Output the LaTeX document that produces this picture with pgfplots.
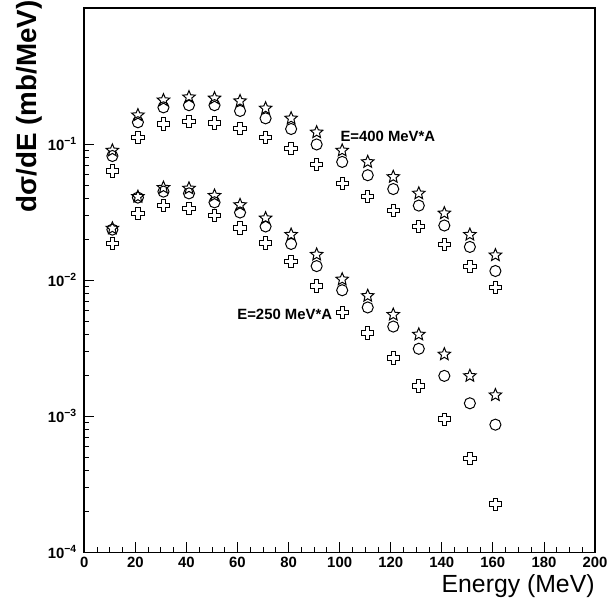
\documentclass[border=0pt]{standalone}
\usepackage{fontspec}
\setmainfont{Liberation Sans}
\usepackage{pgfplots}
\usepackage{pgfplotstable}
\pgfplotsset{compat=1.18}

% open cross and open star marks
\pgfdeclareplotmark{ocross}{%
  \pgfpathmoveto{\pgfqpoint{0.35\pgfplotmarksize}{\pgfplotmarksize}}%
  \pgfpathlineto{\pgfqpoint{-0.35\pgfplotmarksize}{\pgfplotmarksize}}%
  \pgfpathlineto{\pgfqpoint{-0.35\pgfplotmarksize}{0.35\pgfplotmarksize}}%
  \pgfpathlineto{\pgfqpoint{-\pgfplotmarksize}{0.35\pgfplotmarksize}}%
  \pgfpathlineto{\pgfqpoint{-\pgfplotmarksize}{-0.35\pgfplotmarksize}}%
  \pgfpathlineto{\pgfqpoint{-0.35\pgfplotmarksize}{-0.35\pgfplotmarksize}}%
  \pgfpathlineto{\pgfqpoint{-0.35\pgfplotmarksize}{-\pgfplotmarksize}}%
  \pgfpathlineto{\pgfqpoint{0.35\pgfplotmarksize}{-\pgfplotmarksize}}%
  \pgfpathlineto{\pgfqpoint{0.35\pgfplotmarksize}{-0.35\pgfplotmarksize}}%
  \pgfpathlineto{\pgfqpoint{\pgfplotmarksize}{-0.35\pgfplotmarksize}}%
  \pgfpathlineto{\pgfqpoint{\pgfplotmarksize}{0.35\pgfplotmarksize}}%
  \pgfpathlineto{\pgfqpoint{0.35\pgfplotmarksize}{0.35\pgfplotmarksize}}%
  \pgfpathclose\pgfusepathqstroke}
\pgfdeclareplotmark{ostar}{%
  \pgfpathmoveto{\pgfqpoint{0pt}{\pgfplotmarksize}}%
  \pgfpathlineto{\pgfqpoint{-0.2645\pgfplotmarksize}{0.3641\pgfplotmarksize}}%
  \pgfpathlineto{\pgfqpoint{-0.9511\pgfplotmarksize}{0.3090\pgfplotmarksize}}%
  \pgfpathlineto{\pgfqpoint{-0.4280\pgfplotmarksize}{-0.1391\pgfplotmarksize}}%
  \pgfpathlineto{\pgfqpoint{-0.5878\pgfplotmarksize}{-0.8090\pgfplotmarksize}}%
  \pgfpathlineto{\pgfqpoint{0pt}{-0.45\pgfplotmarksize}}%
  \pgfpathlineto{\pgfqpoint{0.5878\pgfplotmarksize}{-0.8090\pgfplotmarksize}}%
  \pgfpathlineto{\pgfqpoint{0.4280\pgfplotmarksize}{-0.1391\pgfplotmarksize}}%
  \pgfpathlineto{\pgfqpoint{0.9511\pgfplotmarksize}{0.3090\pgfplotmarksize}}%
  \pgfpathlineto{\pgfqpoint{0.2645\pgfplotmarksize}{0.3641\pgfplotmarksize}}%
  \pgfpathclose\pgfusepathqstroke}

\pgfplotstableread{
x    star     circ     cross
11   0.0897   0.0817   0.0635
21   0.163    0.1445   0.112
31   0.210    0.186    0.1405
41   0.221    0.193    0.146
51   0.217    0.193    0.143
61   0.207    0.175    0.1306
71   0.183    0.1545   0.112
81   0.1545   0.129    0.0923
91   0.122    0.0993   0.0706
101  0.0897   0.0739   0.0513
111  0.0739   0.059    0.0411
121  0.0574   0.0467   0.0325
131  0.0434   0.0353   0.0248
141  0.031    0.0252   0.0182
151  0.0216   0.01754  0.01254
161  0.01525  0.01167  0.0088
}\eFourH

\pgfplotstableread{
x    star     circ      cross
11   0.0240   0.0235    0.01854
21   0.041    0.0404    0.031
31   0.0478   0.0447    0.0353
41   0.0472   0.0434    0.0337
51   0.0418   0.0373    0.0299
61   0.0357   0.0314    0.0241
71   0.0285   0.0248    0.01876
81   0.0216   0.01845   0.01364
91   0.01542  0.01268   0.00907
101  0.01014  0.00843   0.0058
111  0.00767  0.0063    0.00408
121  0.00558  0.00456   0.00268
131  0.00399  0.00313   0.00167
141  0.00285  0.00198   0.000952
151  0.00198  0.001245  0.00049
161  0.00143  0.000867  0.000226
}\eTwoH

\begin{document}
\begin{tikzpicture}
\begin{axis}[
  name=ax,
  scale only axis,
  width=257.5pt, height=274.5pt,
  ymode=log,
  xmin=0, xmax=200, ymin=1e-4, ymax=1,
  xtick={0,20,...,200},
  minor x tick num=3,
  ytick={1e-4,1e-3,1e-2,1e-1},
  yticklabels={10\textsuperscript{−4},10\textsuperscript{−3},10\textsuperscript{−2},10\textsuperscript{−1}},
  xtick pos=bottom, ytick pos=left,
  tick align=inside,
  major tick length=5pt, minor tick length=2.5pt,
  tick style={black, line width=0.4pt},
  axis line style={line width=0.8pt},
  /pgf/number format/assume math mode=true,
  ticklabel style={font=\bfseries\fontsize{7.5}{9}\selectfont},
  xticklabel style={yshift=1pt},
  xlabel={Energy (MeV)},
  ylabel={\bfseries dσ/dE (mb/MeV)},
  xlabel style={at={([yshift=-20pt]rel axis cs:1,0)}, anchor=base east,
                inner sep=0pt, font=\fontsize{12.5}{14}\selectfont},
  ylabel style={at={([xshift=-24pt,yshift=4pt]rel axis cs:0,1)}, anchor=base east,
                inner sep=0pt, font=\fontsize{14}{16}\selectfont},
  every axis plot/.append style={only marks, black, line width=0.5pt},
]
\addplot[mark=ostar, mark size=3.3pt] table[x=x, y=star] {\eFourH};
\addplot[mark=o, mark size=2.8pt] table[x=x, y=circ] {\eFourH};
\addplot[mark=ocross, mark size=3.1pt] table[x=x, y=cross] {\eFourH};
\addplot[mark=ostar, mark size=3.3pt] table[x=x, y=star] {\eTwoH};
\addplot[mark=o, mark size=2.8pt] table[x=x, y=circ] {\eTwoH};
\addplot[mark=ocross, mark size=3.1pt] table[x=x, y=cross] {\eTwoH};

\node[anchor=west, inner sep=0pt, font=\bfseries\fontsize{7.5}{9}\selectfont] at (axis cs:100.2,0.1135) {E=400 MeV*A};
\node[anchor=west, inner sep=0pt, font=\bfseries\fontsize{7.5}{9}\selectfont] at (axis cs:59.8,0.00564) {E=250 MeV*A};
\end{axis}
\path ([shift={(-42.5pt,-27.5pt)}]ax.south west) rectangle ([shift={(7pt,4pt)}]ax.north east);
\end{tikzpicture}
\end{document}
